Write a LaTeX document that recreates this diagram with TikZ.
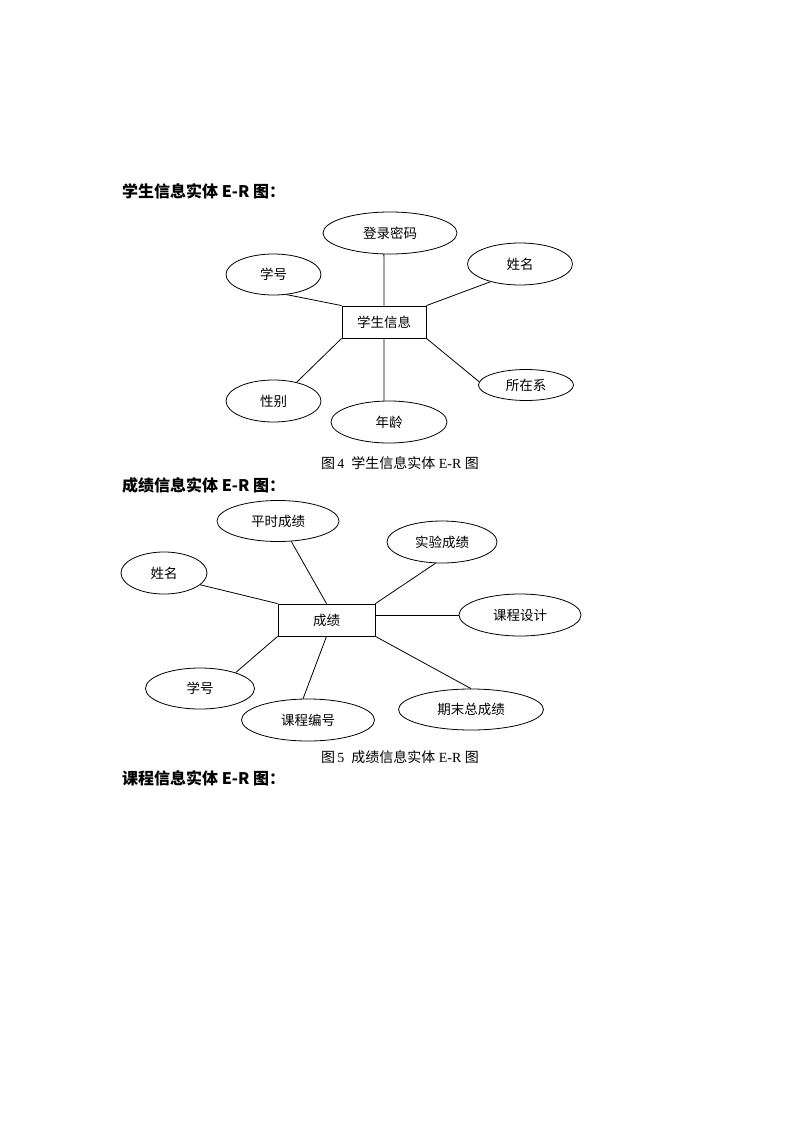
\documentclass[tikz,border=0pt]{standalone}
\usepackage{fontspec}
\setmainfont{Liberation Serif}
\newfontfamily\cjk{Noto Sans CJK SC}
\usetikzlibrary{shapes.geometric}
\tikzstyle{entity} = [rectangle, draw=black, line width=0.8pt, minimum height=32pt, inner sep=0pt, text centered, font=\cjk\fontsize{13.5}{16}\selectfont]
\tikzstyle{attr} = [ellipse, draw=black, line width=0.8pt, minimum height=42pt, inner sep=0pt, text centered, font=\cjk\fontsize{13.5}{16}\selectfont]
\tikzstyle{heading} = [anchor=west, inner sep=0pt, font=\cjk\bfseries\fontsize{16}{19}\selectfont]
\tikzstyle{caption} = [inner sep=0pt, font=\fontsize{14}{17}\selectfont]
\tikzstyle{link} = [line width=0.8pt]

\begin{document}
\begin{tikzpicture}[x=1pt, y=-1pt]
				\useasboundingbox [fill=white] (0,0) rectangle (800,1132);
				\node (h1) [heading] at (122,191) {学生信息实体 E-R 图：};
				% student entity
				\node (xs) [entity, minimum width=84pt] at (384,322) {学生信息};
				\node (dlmm) [attr, minimum width=134pt] at (390,233) {登录密码};
				\node (xh) [attr, minimum width=95pt, minimum height=41pt] at (273.5,274.5) {学号};
				\node (xm) [attr, minimum width=105pt] at (520,264) {姓名};
				\node (xb) [attr, minimum width=95pt] at (273.5,401) {性别};
				\node (nl) [attr, minimum width=116pt] at (389,422) {年龄};
				\node (szx) [attr, minimum width=95pt, minimum height=31pt] at (526,385) {所在系};
				\node (cap4) [caption] at (400,463) {{\cjk 图}\,4\ \ {\cjk 学生信息实体} E-R {\cjk 图}};
				
				\draw [link] (dlmm.-106) -- (xs.north);
				\draw [link] (xh.-57) -- (xs.north west);
				\draw [link] (xm.-149) -- (xs.north east);
				\draw [link] (xb.39) -- (xs.south west);
				\draw [link] (nl.103) -- (xs.south);
				\draw [link] (szx.176) -- (xs.south east);
				
				\node (h2) [heading] at (122,485) {成绩信息实体 E-R 图：};
				% score entity
				\node (cj) [entity, minimum width=97pt] at (326.5,620) {成绩};
				\node (pscj) [attr, minimum width=122pt, minimum height=41pt] at (278,521) {平时成绩};
				\node (sycj) [attr, minimum width=110pt] at (442,542) {实验成绩};
				\node (xm2) [attr, minimum width=86pt] at (164,573) {姓名};
				\node (kcsj) [attr, minimum width=122pt] at (520,615) {课程设计};
				\node (xh2) [attr, minimum width=109pt, minimum height=41pt] at (200,688.5) {学号};
				\node (kcbh) [attr, minimum width=133pt] at (308,720) {课程编号};
				\node (qmzcj) [attr, minimum width=145pt, minimum height=41pt] at (471,709.5) {期末总成绩};
				\node (cap5) [caption] at (400,757) {{\cjk 图}\,5\ \ {\cjk 成绩信息实体} E-R {\cjk 图}};
				
				\draw [link] (pscj.-57) -- (cj.north);
				\draw [link] (sycj.-107) -- (cj.north east);
				\draw [link] (xm2.-18) -- (cj.north west);
				\draw [link] (cj.east |- kcsj.west) -- (kcsj.west);
				\draw [link] (xh2.24) -- (cj.south west);
				\draw [link] (kcbh.103) -- (cj.south);
				\draw [link] (qmzcj.90) -- (cj.south east);
				
				\node (h3) [heading] at (122,778) {课程信息实体 E-R 图：};
\end{tikzpicture}
\end{document}
